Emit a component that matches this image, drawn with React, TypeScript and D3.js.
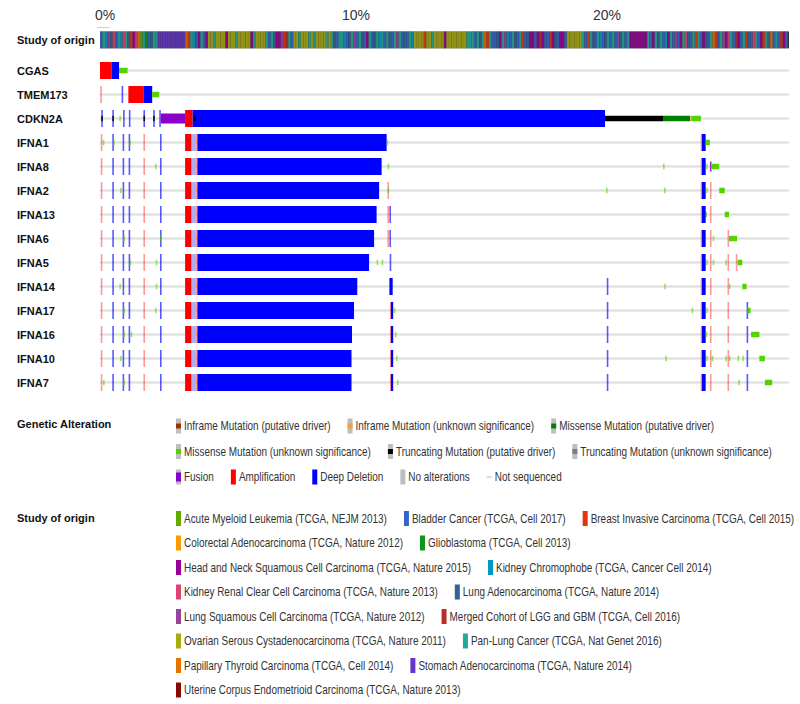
import React, { useEffect, useRef } from 'react';
import * as d3 from 'd3';

const WIDTH = 800;
const HEIGHT = 704;

// percent of samples spanned by the visible track area
const X_MAX = 27.45;
const percentTicks = [0, 10, 20];
// one sample column, in percent of all samples
const SAMPLE = 0.06;

const genes = ['CGAS', 'TMEM173', 'CDKN2A', 'IFNA1', 'IFNA8', 'IFNA2', 'IFNA13', 'IFNA6', 'IFNA5', 'IFNA14', 'IFNA17', 'IFNA16', 'IFNA10', 'IFNA7'];

const studyCodes = ['a', 'b', 'r', 'c', 'g', 'h', 'k', 'p', 'l', 's', 'm', 'o', 't', 'y', 'u', 'e'];
const studyNames = [
  'Acute Myeloid Leukemia (TCGA, NEJM 2013)',
  'Bladder Cancer (TCGA, Cell 2017)',
  'Breast Invasive Carcinoma (TCGA, Cell 2015)',
  'Colorectal Adenocarcinoma (TCGA, Nature 2012)',
  'Glioblastoma (TCGA, Cell 2013)',
  'Head and Neck Squamous Cell Carcinoma (TCGA, Nature 2015)',
  'Kidney Chromophobe (TCGA, Cancer Cell 2014)',
  'Kidney Renal Clear Cell Carcinoma (TCGA, Nature 2013)',
  'Lung Adenocarcinoma (TCGA, Nature 2014)',
  'Lung Squamous Cell Carcinoma (TCGA, Nature 2012)',
  'Merged Cohort of LGG and GBM (TCGA, Cell 2016)',
  'Ovarian Serous Cystadenocarcinoma (TCGA, Nature 2011)',
  'Pan-Lung Cancer (TCGA, Nat Genet 2016)',
  'Papillary Thyroid Carcinoma (TCGA, Cell 2014)',
  'Stomach Adenocarcinoma (TCGA, Nature 2014)',
  'Uterine Corpus Endometrioid Carcinoma (TCGA, Nature 2013)',
];
const studyColors = ['#66aa00', '#3366cc', '#dc3912', '#ff9900', '#109618', '#990099', '#0099c6', '#dd4477', '#316395', '#994499', '#b82e2e', '#aaaa11', '#22aa99', '#e67300', '#6633cc', '#8b0707'];
const studyLegendRows = [['a', 'b', 'r'], ['c', 'g'], ['h', 'k'], ['p', 'l'], ['s', 'm'], ['o', 't'], ['y', 'u'], ['e']];

// study of each group of 0.1% of samples, left to right
const studyStrip = [
  'btkslpbtkptlrhpyatgbltt',
  'uuuuuuuuuuu',
  'yrtkbh',
  'tbh',
  'ootoooohoootooooohtoooo',
  'tbtlhhsrmtb',
  'ootooototooooto',
  'tlbttkbltsbtlbhtbltktbtlbtstblbtk',
  'oooorootoooohoooooooott',
  'tbtltyrtbblhtskbtlbtrbl',
  'hhbhmhbbrhlbhhb',
  'oooooo',
  'tbrtlbtkbltbtbsltbt',
  'hhhhhhh',
  'tbhtltbkhtbsbhtplbtrtbhlbtyrbtshptbmhbtrlbptbhrtlybtbrhb',
].join('');
const STRIP_STEP = 0.1;

const altTypes = ['infD', 'infV', 'misD', 'mis', 'trunc', 'truncV', 'fusion', 'amp', 'del', 'delMixed', 'none', 'ns'];
const altColors = ['#993404', '#f0a040', '#008000', '#53d400', '#000000', '#708090', '#8b00c9', '#ff0000', '#0000ff', '#a9b0f3', '#bebebe', '#bebebe'];
const altLegendRows: [string, string][][] = [
  [['infD', 'Inframe Mutation (putative driver)'], ['infV', 'Inframe Mutation (unknown significance)'], ['misD', 'Missense Mutation (putative driver)']],
  [['mis', 'Missense Mutation (unknown significance)'], ['trunc', 'Truncating Mutation (putative driver)'], ['truncV', 'Truncating Mutation (unknown significance)']],
  [['fusion', 'Fusion'], ['amp', 'Amplification'], ['del', 'Deep Deletion'], ['none', 'No alterations'], ['ns', 'Not sequenced']],
];

type Ev = [number, number, string];
const one = (p: number, t: string): Ev => [p, p + SAMPLE, t];

const cgasEvents: Ev[] = [[0, 0.47, 'amp'], [0.47, 0.76, 'del'], [0.76, 1.1, 'mis']];
const tmem173Events: Ev[] = [one(0.01, 'amp'), one(0.86, 'del'), [1.13, 1.73, 'amp'], [1.73, 2.08, 'del'], [2.08, 2.36, 'mis']];
const cdkn2aEvents: Ev[] = [
  one(0.05, 'del'), one(0.05, 'trunc'), one(0.49, 'del'), one(0.49, 'trunc'), one(0.77, 'mis'),
  one(0.92, 'del'), one(1.15, 'del'), one(1.73, 'del'), one(1.73, 'trunc'), one(2.12, 'del'), one(2.12, 'trunc'),
  one(2.36, 'del'), [2.42, 3.39, 'fusion'], [3.39, 3.69, 'amp'], [3.69, 20.12, 'del'], one(3.75, 'trunc'),
  [20.12, 22.43, 'trunc'], [22.43, 23.51, 'misD'], [23.51, 23.56, 'infV'], [23.56, 23.94, 'mis'],
];

const ifnaShared: Ev[] = [
  one(0.03, 'amp'), one(0.49, 'del'), one(0.9, 'del'), one(1.14, 'del'), one(1.73, 'amp'), one(2.39, 'del'),
  [3.39, 3.65, 'amp'], [3.65, 3.82, 'delMixed'], [3.82, 3.88, 'amp'],
  [23.93, 23.98, 'amp'], [23.98, 24.13, 'del'],
];
// end of the long deep deletion block starting at 3.88%
const ifnaDeletionEnd = [11.42, 11.22, 11.12, 11.02, 10.92, 10.72, 10.25, 10.12, 10.04, 10.02, 10.02];
const ifnaOwn: Ev[][] = [
  [one(0.11, 'mis'), one(0.53, 'mis'), one(1.17, 'mis'), one(11.42, 'mis'), [24.13, 24.3, 'mis']],
  [one(2.19, 'mis'), one(11.46, 'mis'), one(22.43, 'mis'), one(24.15, 'mis'), one(24.3, 'fusion'), [24.37, 24.67, 'mis']],
  [one(0.8, 'mis'), one(11.45, 'amp'), one(11.46, 'mis'), one(20.16, 'mis'), one(22.47, 'mis'), one(24.15, 'mis'), one(24.3, 'amp'), [24.67, 24.89, 'mis']],
  [one(11.45, 'amp'), one(11.53, 'del'), one(24.1, 'misD'), one(24.3, 'amp'), [24.89, 25.06, 'mis']],
  [one(0.93, 'mis'), one(2.39, 'mis'), one(11.45, 'amp'), one(11.53, 'del'), one(24.3, 'amp'), one(24.41, 'mis'), one(25.0, 'amp'), [25.06, 25.38, 'mis']],
  [one(1.18, 'mis'), one(2.22, 'mis'), one(11.02, 'mis'), one(11.22, 'mis'), one(11.54, 'del'), one(24.15, 'mis'), one(24.3, 'amp'), one(24.41, 'mis'), one(24.91, 'mis'), one(25.0, 'amp'), one(25.33, 'amp'), [25.4, 25.59, 'mis']],
  [one(0.77, 'mis'), one(2.22, 'mis'), [11.53, 11.66, 'del'], one(20.19, 'del'), one(22.48, 'mis'), one(24.3, 'amp'), one(25.0, 'amp'), one(25.06, 'mis'), [25.59, 25.76, 'mis']],
  [one(0.93, 'mis'), one(2.19, 'mis'), one(11.55, 'amp'), [11.59, 11.68, 'del'], one(11.7, 'mis'), one(20.19, 'del'), one(23.57, 'mis'), one(24.15, 'mis'), one(24.3, 'amp'), one(25.0, 'amp'), one(25.76, 'del'), [25.8, 25.92, 'mis']],
  [one(0.93, 'mis'), one(1.22, 'mis'), one(11.55, 'amp'), [11.59, 11.68, 'del'], one(11.75, 'mis'), one(20.19, 'del'), [24.13, 24.19, 'mis'], one(24.3, 'amp'), one(25.0, 'amp'), one(25.76, 'del'), [25.94, 26.27, 'mis']],
  [one(0.8, 'mis'), one(11.55, 'amp'), [11.59, 11.68, 'del'], one(11.79, 'mis'), one(20.19, 'del'), one(22.52, 'mis'), one(24.15, 'mis'), one(24.3, 'amp'), one(24.37, 'mis'), one(24.91, 'mis'), one(25.0, 'amp'), one(25.06, 'mis'), one(25.4, 'mis'), one(25.59, 'mis'), one(25.76, 'del'), [26.27, 26.49, 'mis']],
  [one(0.12, 'mis'), one(0.93, 'mis'), one(11.55, 'amp'), [11.59, 11.68, 'del'], one(11.83, 'mis'), one(20.19, 'del'), one(24.3, 'amp'), one(25.0, 'amp'), one(25.43, 'mis'), one(25.76, 'del'), [26.49, 26.78, 'mis']],
];

const geneEvents: Ev[][] = [
  cgasEvents,
  tmem173Events,
  cdkn2aEvents,
  ...ifnaOwn.map((own, i) => [...ifnaShared, [3.88, ifnaDeletionEnd[i], 'del'] as Ev, ...own]),
];

const LABEL_FONT = '"Liberation Sans", Arial, Helvetica, sans-serif';

export default function App() {
  const ref = useRef<SVGSVGElement>(null);

  useEffect(() => {
    const svg = d3.select(ref.current as SVGSVGElement);
    svg.selectAll('*').remove();

    const x = d3.scaleLinear().domain([0, X_MAX]).range([100, 789]);
    const y = d3.scalePoint<string>().domain(genes).range([70.5, 382.5]);
    const altColor = d3.scaleOrdinal<string, string>().domain(altTypes).range(altColors);
    const studyColor = d3.scaleOrdinal<string, string>().domain(studyCodes).range(studyColors);
    const studyName = d3.scaleOrdinal<string, string>().domain(studyCodes).range(studyNames);

    const ROW_H = 17;
    const FUSION_H = 10;
    const MUT_H = 5.5;

    // ruler labels
    svg.append('g')
      .selectAll('text')
      .data(percentTicks)
      .join('text')
      .attr('x', (d) => x(d) + 5)
      .attr('y', 20)
      .attr('text-anchor', 'middle')
      .attr('font-family', LABEL_FONT)
      .attr('font-size', 14)
      .attr('fill', '#333')
      .text((d) => `${d}%`);
    svg.append('line')
      .attr('x1', x(0) - 3).attr('x2', x(0) + 10)
      .attr('y1', 27.5).attr('y2', 27.5)
      .attr('stroke', '#d0d0d0').attr('stroke-width', 1);

    // study of origin strip
    const stripTop = 31.5;
    const stripH = 16.8;
    svg.append('text')
      .attr('x', 17).attr('y', stripTop + stripH / 2 + 4)
      .attr('font-family', LABEL_FONT).attr('font-weight', 'bold').attr('font-size', 11)
      .attr('fill', '#111').text('Study of origin');
    svg.append('rect')
      .attr('x', x(0)).attr('width', x(X_MAX) - x(0))
      .attr('y', stripTop).attr('height', stripH)
      .attr('fill', '#333');
    svg.append('g')
      .attr('opacity', 0.8)
      .selectAll('rect')
      .data(studyStrip.split(''))
      .join('rect')
      .attr('x', (_, i) => x(i * STRIP_STEP))
      .attr('width', (_, i) => x(Math.min((i + 1) * STRIP_STEP, X_MAX)) - x(i * STRIP_STEP))
      .attr('y', stripTop)
      .attr('height', stripH)
      .attr('fill', (d) => studyColor(d));

    // gene tracks
    const tracks = svg.append('g')
      .selectAll('g')
      .data(genes.map((g, i) => ({ gene: g, events: geneEvents[i] })))
      .join('g')
      .attr('transform', (d) => `translate(0,${y(d.gene)})`);

    tracks.append('text')
      .attr('x', 17).attr('y', 4)
      .attr('font-family', LABEL_FONT).attr('font-weight', 'bold').attr('font-size', 11)
      .attr('fill', '#111').text((d) => d.gene);

    tracks.append('rect')
      .attr('x', x(0)).attr('width', x(X_MAX) - x(0))
      .attr('y', -1).attr('height', 2)
      .attr('fill', '#dcdcdc');

    const isCna = (t: string) => t === 'amp' || t === 'del' || t === 'delMixed';
    const heightOf = (t: string) => (isCna(t) ? ROW_H : t === 'fusion' ? FUSION_H : MUT_H);
    const layer = (t: string) => (isCna(t) ? 0 : t === 'fusion' ? 1 : 2);
    const singleOpacity = (t: string) => (t === 'amp' ? 0.4 : t === 'del' ? 0.65 : t === 'mis' ? 0.6 : 0.85);

    tracks.each(function (d) {
      const evs = [...d.events].sort((a, b) => layer(a[2]) - layer(b[2]));
      d3.select(this)
        .selectAll('rect.ev')
        .data(evs)
        .join('rect')
        .attr('class', 'ev')
        .attr('x', (e) => x(e[0]))
        .attr('width', (e) => Math.max(1.6, x(e[1]) - x(e[0])))
        .attr('y', (e) => -heightOf(e[2]) / 2)
        .attr('height', (e) => heightOf(e[2]))
        .attr('fill', (e) => altColor(e[2]))
        .attr('fill-opacity', (e) => (e[1] - e[0] <= SAMPLE + 1e-9 ? singleOpacity(e[2]) : 1));
    });

    // legends
    const legend = svg.append('g');
    const SW_X = 176;
    const SW_W = 5;
    const SW_H = 15;
    const GAP = 17;
    const NARROW = 0.83;

    const addLegendText = (g: any, tx: number, ty: number, label: string) => {
      const holder = g.append('g').attr('transform', `translate(${tx},${ty}) scale(${NARROW},1)`);
      const t = holder.append('text')
        .attr('x', 0).attr('y', 0)
        .attr('font-family', LABEL_FONT).attr('font-size', 12)
        .attr('fill', '#333').text(label);
      return (t.node() as SVGTextElement).getComputedTextLength() * NARROW;
    };

    legend.append('text')
      .attr('x', 17).attr('y', 428)
      .attr('font-family', LABEL_FONT).attr('font-weight', 'bold').attr('font-size', 11)
      .attr('fill', '#111').text('Genetic Alteration');

    const altRowY = [426, 451.5, 477];
    altLegendRows.forEach((row, ri) => {
      let cx = SW_X;
      const cy = altRowY[ri];
      row.forEach(([type, label]) => {
        const g = legend.append('g');
        if (type === 'ns') {
          g.append('rect').attr('x', cx).attr('width', SW_W).attr('y', cy - 0.5).attr('height', 1).attr('fill', '#bebebe');
        } else {
          g.append('rect').attr('x', cx).attr('width', SW_W).attr('y', cy - SW_H / 2).attr('height', SW_H)
            .attr('fill', isCna(type) ? altColor(type) : '#bebebe');
          if (type === 'fusion') {
            g.append('rect').attr('x', cx).attr('width', SW_W).attr('y', cy - SW_H * 0.3).attr('height', SW_H * 0.6).attr('fill', altColor(type));
          } else if (!isCna(type) && type !== 'none') {
            g.append('rect').attr('x', cx).attr('width', SW_W).attr('y', cy - SW_H / 6).attr('height', SW_H / 3).attr('fill', altColor(type));
          }
        }
        const w = addLegendText(g, cx + SW_W + 3, cy + 4, label);
        cx += SW_W + 3 + w + GAP;
      });
    });

    legend.append('text')
      .attr('x', 17).attr('y', 522)
      .attr('font-family', LABEL_FONT).attr('font-weight', 'bold').attr('font-size', 11)
      .attr('fill', '#111').text('Study of origin');

    studyLegendRows.forEach((row, ri) => {
      let cx = SW_X;
      const cy = 518.5 + ri * 24.5;
      row.forEach((code) => {
        const g = legend.append('g');
        g.append('rect').attr('x', cx).attr('width', SW_W).attr('y', cy - SW_H / 2).attr('height', SW_H)
          .attr('fill', studyColor(code));
        const w = addLegendText(g, cx + SW_W + 3, cy + 4, studyName(code));
        cx += SW_W + 3 + w + GAP;
      });
    });
  }, []);

  return (
    <svg
      ref={ref}
      width={WIDTH}
      height={HEIGHT}
      style={{ position: 'absolute', left: 0, top: 0, background: '#fff' }}
    />
  );
}
